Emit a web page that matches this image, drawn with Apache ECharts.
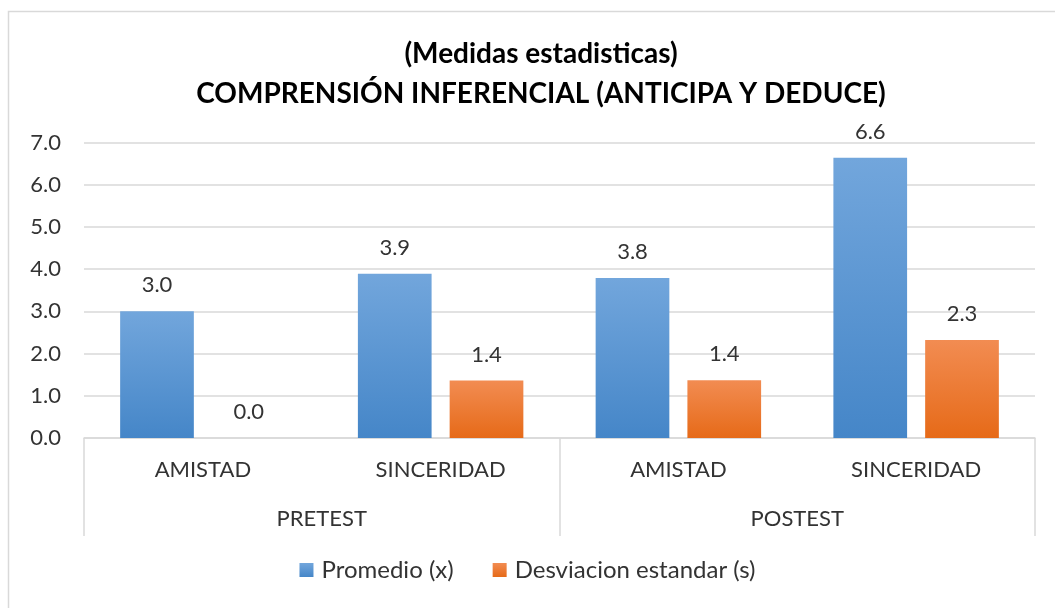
<!DOCTYPE html>
<html>
<head>
<meta charset="utf-8">
<script src="https://cdn.jsdelivr.net/npm/echarts@6/dist/echarts.min.js"></script>
<style>
html,body{margin:0;padding:0;background:#fff;}
#chart{width:1055px;height:608px;}
</style>
</head>
<body>
<div id="chart"></div>
<script>
const titleLines = ['(Medidas estadisticas)', 'COMPRENSIÓN INFERENCIAL (ANTICIPA Y DEDUCE)'];
const subCategories = ['AMISTAD', 'SINCERIDAD', 'AMISTAD', 'SINCERIDAD'];
const groups = ['PRETEST', 'POSTEST'];
const seriesNames = ['Promedio (x)', 'Desviacion estandar (s)'];
const promedio = [3.0, 3.89, 3.79, 6.64];
const desviacion = [0.0, 1.36, 1.37, 2.32];
const yTicks = { min: 0, max: 7, interval: 1 };

const FONT = 'Lato';
const TXT = '#333333';
const chart = echarts.init(document.getElementById('chart'));

function grad(top, bottom) {
  return new echarts.graphic.LinearGradient(0, 0, 0, 1, [
    { offset: 0, color: top }, { offset: 1, color: bottom }
  ]);
}

const labelCfg = {
  show: true, position: 'top', distance: 15,
  color: TXT, fontFamily: FONT, fontSize: 22,
  formatter: p => Number(p.value).toFixed(1)
};

chart.setOption({
  animation: false,
  graphic: [{
    type: 'rect', silent: true, z: -10,
    shape: { x: 8.5, y: 11.5, width: 1100, height: 700 },
    style: { fill: 'none', stroke: '#D9D9D9', lineWidth: 1.5 }
  }],
  title: {
    text: titleLines.join('\n'),
    left: 536, textAlign: 'center', top: 29,
    textStyle: { fontFamily: FONT, fontWeight: 'bold', fontSize: 28, color: '#000', lineHeight: 40 }
  },
  legend: {
    bottom: 21, left: 'center',
    itemWidth: 14, itemHeight: 14, itemGap: 39,
    icon: 'rect',
    textStyle: { fontFamily: FONT, fontSize: 24, color: TXT, padding: [0, 0, 0, 3] },
    data: seriesNames
  },
  grid: { left: 84, right: 20, top: 142.5, bottom: 170 },
  xAxis: [{
    type: 'category', data: subCategories,
    axisLine: { show: true, lineStyle: { color: '#D9D9D9', width: 1.5 } },
    axisTick: { show: false },
    axisLabel: { margin: 21, color: TXT, fontFamily: FONT, fontSize: 22 }
  }, {
    type: 'category', data: groups, position: 'bottom',
    axisLine: { show: false },
    axisTick: { show: true, length: 98, interval: 0, lineStyle: { color: '#D9D9D9', width: 1.5 } },
    axisLabel: { margin: 70, color: TXT, fontFamily: FONT, fontSize: 22 }
  }],
  yAxis: {
    type: 'value', min: yTicks.min, max: yTicks.max, interval: yTicks.interval,
    axisLine: { show: false }, axisTick: { show: false },
    splitLine: { lineStyle: { color: '#D9D9D9', width: 1.5 } },
    axisLabel: { margin: 23, color: TXT, fontFamily: FONT, fontSize: 22, formatter: v => v.toFixed(1) }
  },
  series: [{
    name: seriesNames[0], type: 'bar', data: promedio,
    barWidth: '31%', barGap: '24.5%',
    itemStyle: { color: grad('#72A6DC', '#4586C8') },
    label: labelCfg
  }, {
    name: seriesNames[1], type: 'bar', data: desviacion,
    barWidth: '31%',
    itemStyle: { color: grad('#F28C52', '#E66A18') },
    label: labelCfg
  }]
});
</script>
</body>
</html>
